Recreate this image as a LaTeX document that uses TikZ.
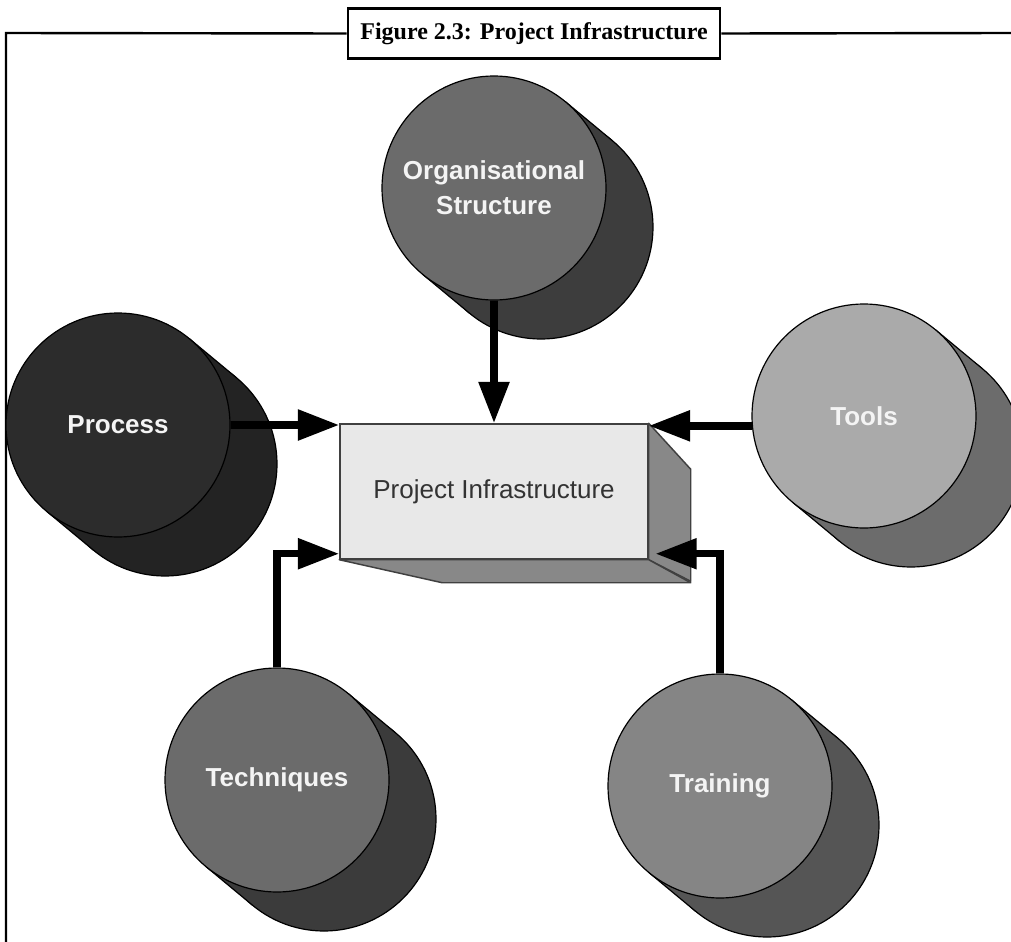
\documentclass[tikz,border=0pt]{standalone}
\usepackage{fontspec}
\setmainfont{Liberation Sans}
\newfontfamily\titlefont{Liberation Serif}
\usetikzlibrary{arrows.meta,calc}
\definecolor{orgF}{HTML}{6B6B6B}
\definecolor{orgB}{HTML}{3D3D3D}
\definecolor{procF}{HTML}{2C2C2C}
\definecolor{procB}{HTML}{232323}
\definecolor{toolF}{HTML}{AAAAAA}
\definecolor{toolB}{HTML}{6C6C6C}
\definecolor{techF}{HTML}{6B6B6B}
\definecolor{techB}{HTML}{3B3B3B}
\definecolor{trainF}{HTML}{858585}
\definecolor{trainB}{HTML}{555555}
\definecolor{boxF}{HTML}{E8E8E8}
\definecolor{boxS}{HTML}{888888}
\definecolor{txtW}{HTML}{F4F4F4}
\tikzset{
  cylline/.style={draw=black, line width=0.9pt},
  cylface/.style={circle, minimum size=168pt, inner sep=0pt, draw=black, line width=0.9pt,
    text=txtW, font=\bfseries\fontsize{19.5}{26}\selectfont, align=center},
  arr/.style={line width=5.6pt, -{Triangle[length=31pt, width=22pt]}},
  frameline/.style={line width=1.8pt, draw=black},
  facebox/.style={fill=boxS, draw=black!75, line width=1.1pt, line join=round}
}
\newcommand\drawcyl[6]{%
  \coordinate (#1-c) at (#2,#3);
  \coordinate (#1-b) at ($(#1-c)+(47,39)$);
  \filldraw[fill=#5, cylline] (#1-b) circle[radius=112];
  \fill[#5] ($(#1-c)+(-71.5,86.2)$) -- ($(#1-b)+(-71.5,86.2)$) -- ($(#1-b)+(71.5,-86.2)$) -- ($(#1-c)+(71.5,-86.2)$) -- cycle;
  \draw[cylline] ($(#1-c)+(-71.5,86.2)$) -- ($(#1-b)+(-71.5,86.2)$);
  \draw[cylline] ($(#1-c)+(71.5,-86.2)$) -- ($(#1-b)+(71.5,-86.2)$);
  \node[cylface, fill=#4] (#1) at (#1-c) {#6};
}
\begin{document}
\begin{tikzpicture}[x=0.75pt,y=-0.75pt]
\useasboundingbox (0,0) rectangle (1011,942);
\clip (0,0) rectangle (1011,942);
\fill[white] (0,0) rectangle (1011,942);
% title and frame
\node[draw=black, line width=2.2pt, fill=white, minimum width=279pt, minimum height=38pt,
  inner sep=0pt, font=\titlefont\bfseries\fontsize{18}{20}\selectfont] (title) at (534,33.5)
  {Figure 2.3: Project Infrastructure};
\coordinate (fcorner) at (6,33);
\coordinate (fbottom) at (6,942);
\coordinate (fright) at (1011,33);
\draw[frameline] (title.west) -- (fcorner) -- (fbottom);
\draw[frameline] (title.east) -- (fright);
% cylinders
\drawcyl{org}{494}{188}{orgF}{orgB}{Organisational\\Structure}
\drawcyl{proc}{118}{425}{procF}{procB}{Process}
\drawcyl{tools}{864}{416}{toolF}{toolB}{Tools}
\drawcyl{tech}{277}{780}{techF}{techB}{Techniques}
\drawcyl{train}{720}{786}{trainF}{trainB}{Training}
% central box
\node[draw=black!75, fill=boxF, line width=1.1pt, minimum width=231pt, minimum height=101.25pt,
  inner sep=0pt, text=black!80, font=\fontsize{19.5}{24}\selectfont] (box) at (494,491.5)
  {Project Infrastructure};
\filldraw[facebox] (box.north east) -- ++(42,46) -- ++(0,112) -- (box.south east) -- cycle;
\filldraw[facebox] (box.south west) -- ($(box.south west)+(103,23)$) -- ($(box.south east)+(42,23)$) -- (box.south east) -- cycle;
% connectors
\draw[arr] (org.south) -- (box.north);
\draw[arr] (proc.east) -- (proc.east -| box.west);
\draw[arr] (tools.185) -- (tools.185 -| box.east);
\draw[arr] (tech.north) |- ([yshift=4.5pt]box.south west);
\draw[arr] (train.north) |- ([xshift=5pt,yshift=4.5pt]box.south east);
\end{tikzpicture}
\end{document}
